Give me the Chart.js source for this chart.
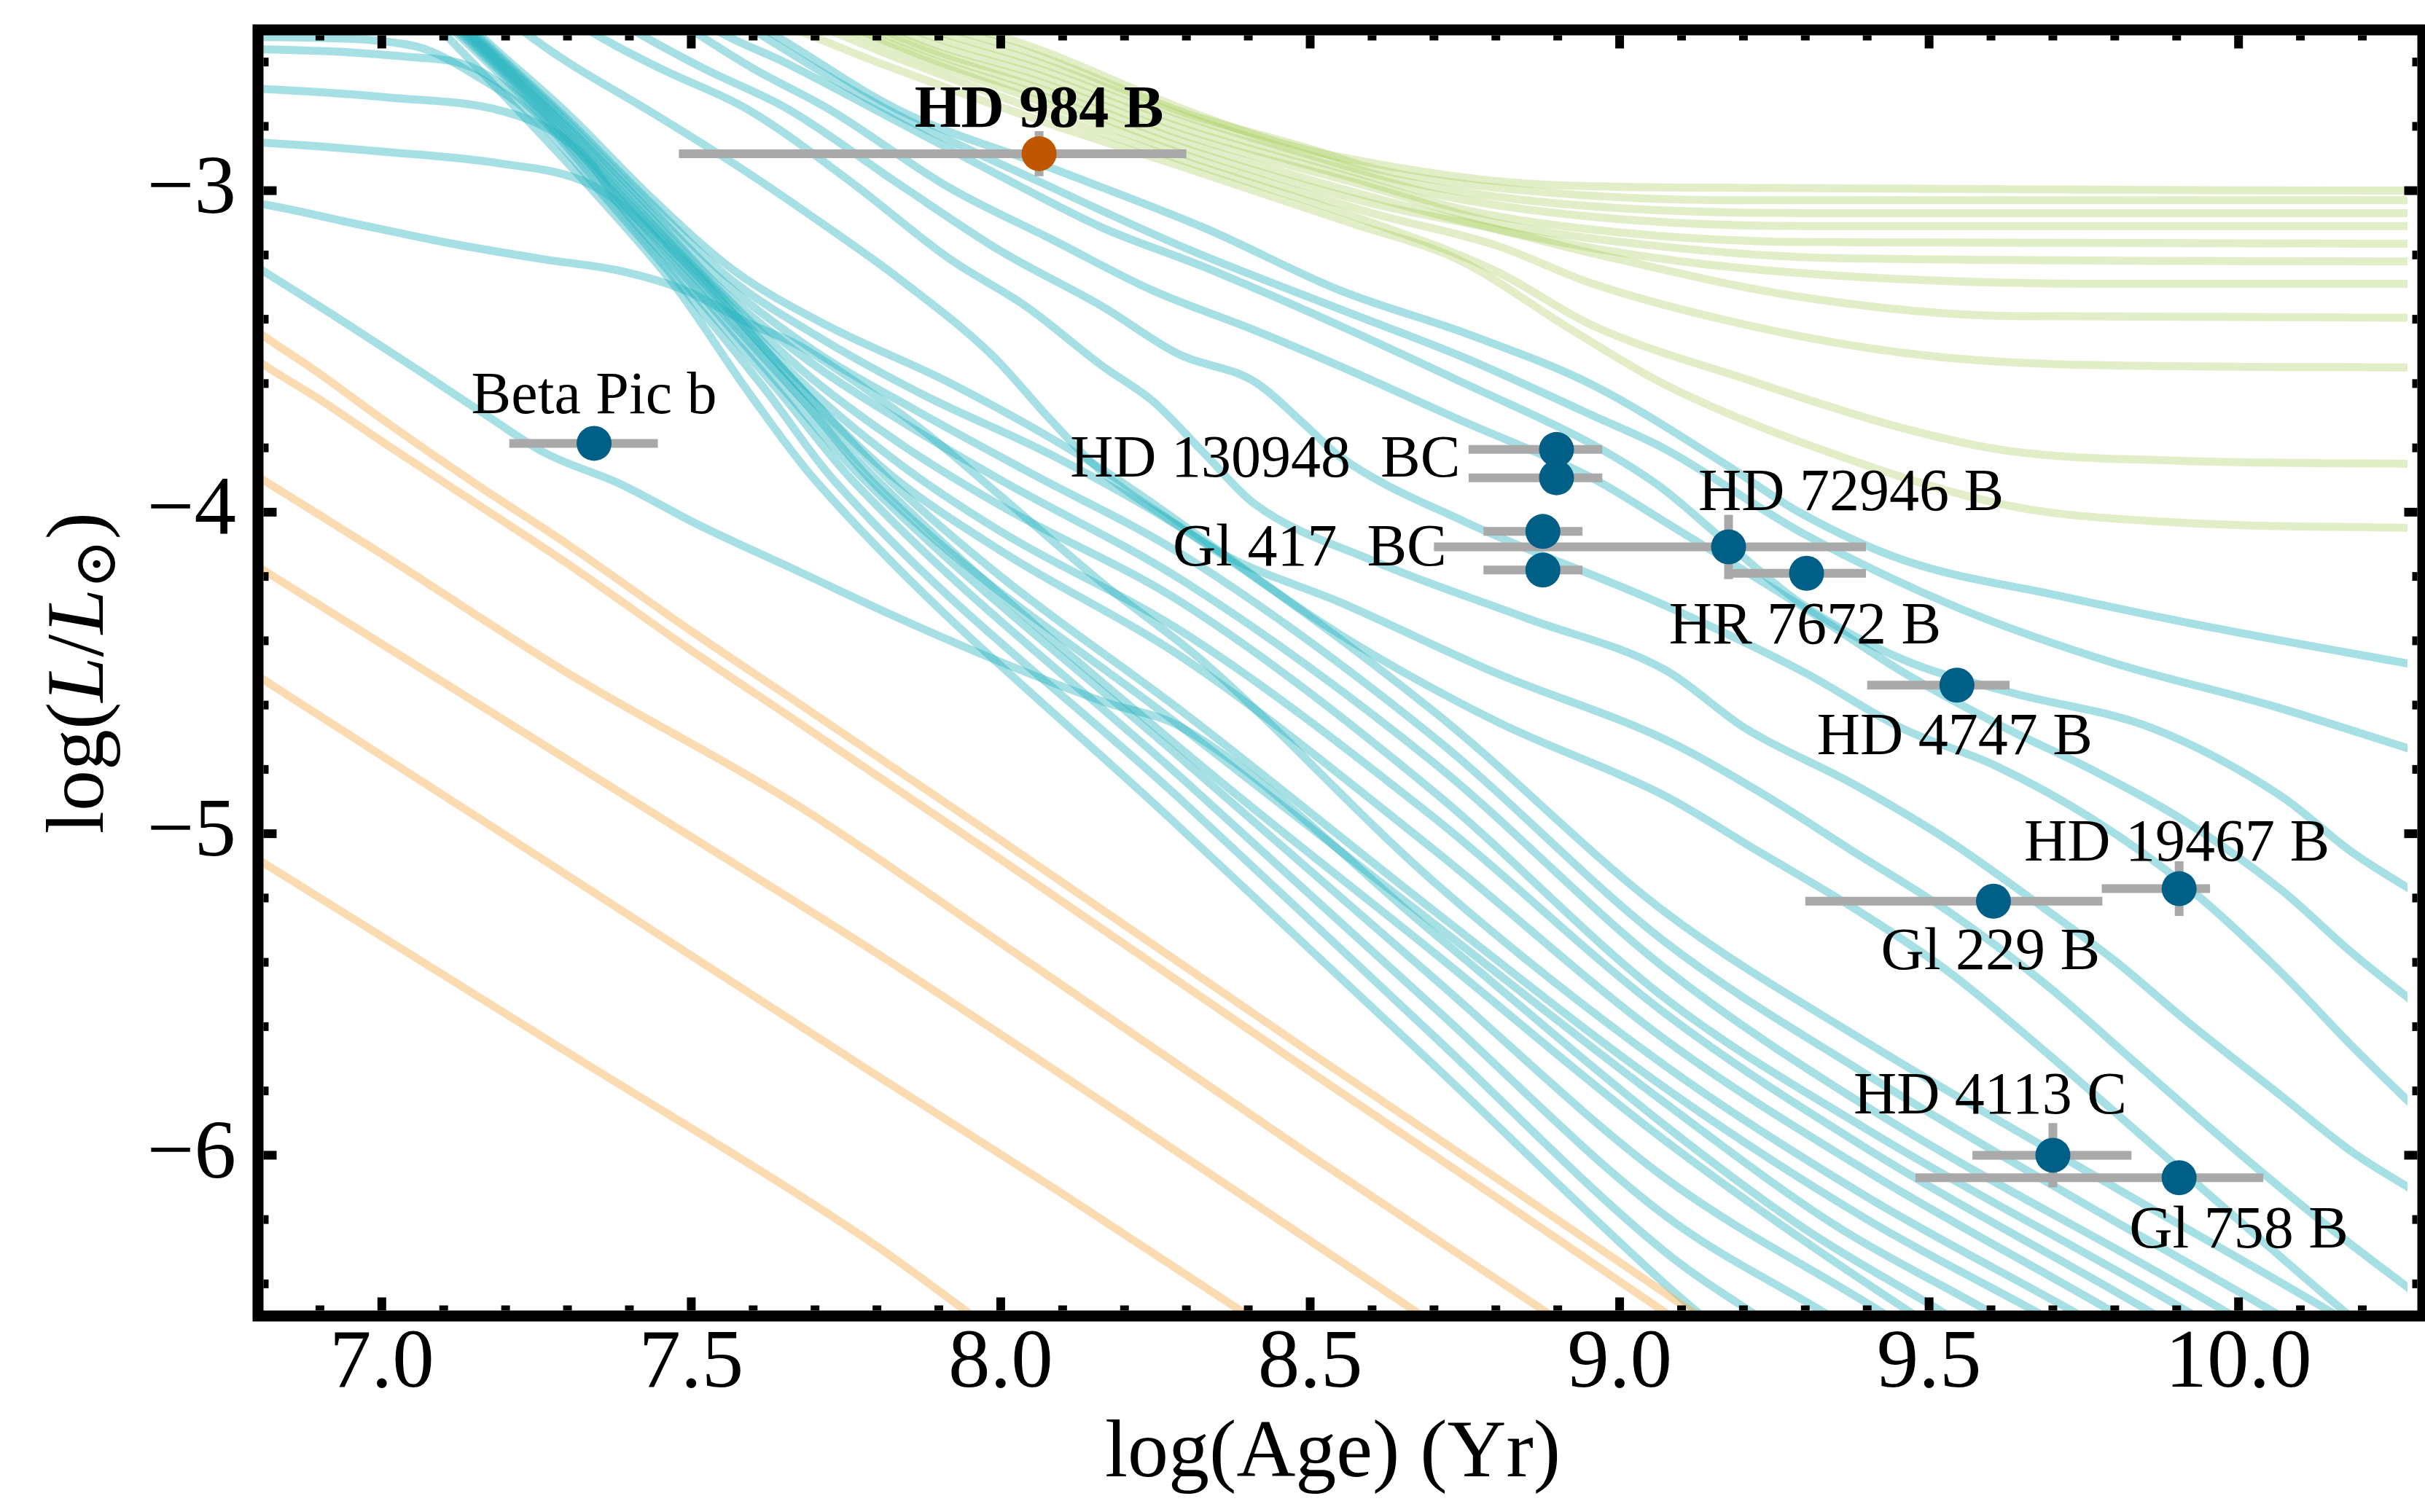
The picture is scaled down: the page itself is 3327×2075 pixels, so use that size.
<!DOCTYPE html>
<html>
<head>
<meta charset="utf-8">
<script src="https://cdn.jsdelivr.net/npm/chart.js"></script>
<style>
  html, body { margin: 0; padding: 0; background: #fff; }
  canvas { display: block; }
</style>
</head>
<body>
<canvas id="chart" width="3327" height="2075"></canvas>
<script>
// observed companions: log(age/yr), log(L/Lsun) and their error ranges
const objectNames = ["HD 984 B", "Beta Pic b", "HD 130948 B", "HD 130948 C", "Gl 417 B", "Gl 417 C",
  "HD 72946 B", "HR 7672 B", "HD 4747 B", "HD 19467 B", "Gl 229 B", "HD 4113 C", "Gl 758 B"];
const logAge = [8.062, 7.343, 8.898, 8.898, 8.876, 8.876, 9.176, 9.302, 9.545, 9.904, 9.604, 9.70, 9.904];
const logLum = [-2.885, -3.786, -3.805, -3.893, -4.06, -4.18, -4.108, -4.19, -4.538, -5.171, -5.21, -6.0, -6.07];
const ageLow = [7.48, 7.206, 8.756, 8.756, 8.78, 8.78, 8.70, 9.176, 9.40, 9.779, 9.30, 9.57, 9.478];
const ageHigh = [8.30, 7.446, 8.972, 8.972, 8.94, 8.94, 9.398, 9.398, 9.63, 9.954, 9.78, 9.827, 10.04];
const lumErr = [0.07, 0.02, 0.02, 0.02, 0.02, 0.02, 0.10, 0.02, 0.04, 0.085, 0.02, 0.10, 0.02];

// text labels and which point(s) they belong to
const labelText = ["HD 984 B", "Beta Pic b", "HD 130948  BC", "Gl 417  BC", "HD 72946 B", "HR 7672 B",
  "HD 4747 B", "HD 19467 B", "Gl 229 B", "HD 4113 C", "Gl 758 B"];
const labelAnchor = [[0], [1], [2, 3], [4, 5], [6], [7], [8], [9], [10], [11], [12]];

// axis ticks
const ageTicks = [7.0, 7.5, 8.0, 8.5, 9.0, 9.5, 10.0];
const lumTicks = [-6, -5, -4, -3];

// evolutionary tracks, [log age, log L]
const orangeTracks = [
  [[6.75, -3.37], [6.8, -3.44], [6.9, -3.57], [7.0, -3.71], [7.15, -3.91], [7.3, -4.10], [7.5, -4.37], [7.67, -4.59], [8.0, -5.02], [8.5, -5.68], [8.8, -6.07], [9.15, -6.53]],
  [[6.75, -3.46], [6.8, -3.53], [6.9, -3.65], [7.0, -3.78], [7.15, -3.97], [7.3, -4.16], [7.5, -4.43], [7.67, -4.65], [8.0, -5.08], [8.5, -5.74], [8.8, -6.13], [9.12, -6.55]],
  [[6.75, -3.83], [6.8, -3.89], [7.0, -4.13], [7.3, -4.5], [7.67, -4.91], [8.0, -5.34], [8.5, -6.0], [8.93, -6.55]],
  [[6.75, -4.11], [6.8, -4.17], [7.0, -4.41], [7.5, -5.01], [7.79, -5.36], [8.2, -5.88], [8.72, -6.55]],
  [[6.75, -4.45], [6.8, -4.51], [7.3, -5.13], [7.79, -5.74], [8.1, -6.12], [8.44, -6.55]],
  [[6.75, -5.02], [6.8, -5.08], [7.3, -5.68], [7.79, -6.27], [7.99, -6.55]],
];

const cyanTracks = [
  // plateau tracks from the left edge, dropping through the steep band
  [[6.75, -2.52], [6.8, -2.522], [6.9, -2.525], [7.0, -2.535], [7.07, -2.56], [7.15, -2.64], [7.24, -2.76], [7.365, -3.03], [7.485, -3.3], [7.62, -3.62], [7.73, -3.9], [8.3, -4.91], [8.7, -5.63], [9.073, -6.3], [9.27, -6.56]],
  [[6.75, -2.558], [6.8, -2.56], [6.95, -2.57], [7.05, -2.585], [7.12, -2.6], [7.17, -2.64], [7.25, -2.76], [7.372, -3.03], [7.495, -3.3], [7.64, -3.62], [7.76, -3.9], [8.3, -4.84], [8.7, -5.54], [9.073, -6.187], [9.34, -6.5], [9.39, -6.56]],
  [[6.75, -2.68], [6.8, -2.683], [7.01, -2.71], [7.19, -2.75], [7.28, -2.82], [7.34, -2.92], [7.378, -3.03], [7.505, -3.3], [7.65, -3.62], [7.78, -3.9], [8.3, -4.78], [8.7, -5.45], [9.073, -6.07], [9.433, -6.5], [9.48, -6.56]],
  [[6.75, -2.847], [6.8, -2.85], [7.01, -2.88], [7.19, -2.915], [7.325, -2.97], [7.39, -3.05], [7.512, -3.3], [7.665, -3.62], [7.8, -3.9], [8.3, -4.75], [8.7, -5.37], [9.073, -5.954], [9.479, -6.5], [9.53, -6.56]],
  [[6.75, -3.03], [6.8, -3.04], [6.95, -3.1], [7.1, -3.16], [7.26, -3.213], [7.386, -3.25], [7.49, -3.31], [7.59, -3.41], [7.672, -3.48], [7.754, -3.58], [7.877, -3.75], [8.0, -3.95], [8.164, -4.22], [8.328, -4.466], [8.7, -5.15], [9.073, -5.721], [9.4, -6.13], [9.746, -6.5], [9.8, -6.56]],
  [[6.75, -3.18], [6.8, -3.24], [6.92, -3.385], [7.06, -3.56], [7.17, -3.7], [7.263, -3.815], [7.386, -3.913], [7.508, -4.036], [7.672, -4.183], [7.836, -4.33], [8.0, -4.466], [8.164, -4.588], [8.295, -4.672], [8.7, -5.31], [9.073, -5.907], [9.3, -6.23], [9.532, -6.5], [9.58, -6.56]],
  // tracks entering from the top through the steep band, fanning out below it
  [[6.99, -2.3], [7.095, -2.5], [7.225, -2.76], [7.355, -3.03], [7.475, -3.3], [7.59, -3.62], [7.7, -3.9], [8.3, -5.0], [8.7, -5.72], [9.073, -6.4], [9.17, -6.56]],
  [[7.0, -2.3], [7.115, -2.5], [7.255, -2.76], [7.385, -3.03], [7.52, -3.3], [7.68, -3.65], [7.8, -3.92], [8.3, -4.68], [8.7, -5.28], [9.073, -5.837], [9.35, -6.22], [9.609, -6.5], [9.66, -6.56]],
  [[7.0, -2.3], [7.12, -2.5], [7.26, -2.76], [7.39, -3.03], [7.527, -3.3], [7.68, -3.62], [7.82, -3.9], [8.0, -4.2], [8.3, -4.63], [8.7, -5.24], [9.073, -5.79], [9.4, -6.2], [9.685, -6.5], [9.74, -6.56]],
  [[7.01, -2.3], [7.125, -2.5], [7.265, -2.76], [7.395, -3.03], [7.53, -3.3], [7.67, -3.6], [7.82, -3.88], [8.0, -4.12], [8.3, -4.46], [8.7, -5.05], [9.073, -5.64], [9.4, -6.05], [9.808, -6.5], [9.86, -6.56]],
  [[7.02, -2.3], [7.13, -2.5], [7.27, -2.76], [7.4, -3.03], [7.535, -3.3], [7.67, -3.58], [7.83, -3.84], [8.0, -4.06], [8.3, -4.38], [8.7, -4.95], [9.073, -5.558], [9.4, -5.98], [9.869, -6.5], [9.92, -6.56]],
  [[7.02, -2.3], [7.133, -2.5], [7.275, -2.76], [7.408, -3.03], [7.54, -3.3], [7.68, -3.56], [7.84, -3.79], [8.0, -3.98], [8.3, -4.29], [8.7, -4.87], [9.073, -5.511], [9.4, -5.92], [9.93, -6.5], [9.98, -6.56]],
  [[7.03, -2.3], [7.136, -2.5], [7.28, -2.76], [7.415, -3.03], [7.545, -3.3], [7.69, -3.53], [7.85, -3.73], [8.0, -3.9], [8.3, -4.22], [8.7, -4.78], [9.073, -5.418], [9.4, -5.85], [9.991, -6.5], [10.04, -6.56]],
  [[7.03, -2.3], [7.14, -2.5], [7.285, -2.76], [7.422, -3.03], [7.55, -3.28], [7.7, -3.5], [7.86, -3.68], [8.04, -3.87], [8.3, -4.14], [8.7, -4.7], [9.073, -5.336], [9.4, -5.75], [9.75, -6.15], [10.068, -6.5], [10.12, -6.56]],
  [[7.04, -2.3], [7.145, -2.5], [7.29, -2.76], [7.43, -3.03], [7.56, -3.27], [7.71, -3.46], [7.88, -3.64], [8.08, -3.82], [8.3, -4.06], [8.7, -4.62], [9.073, -5.243], [9.4, -5.65], [9.8, -6.1], [10.16, -6.5], [10.21, -6.56]],
  [[7.05, -2.3], [7.15, -2.5], [7.3, -2.76], [7.44, -3.03], [7.57, -3.25], [7.72, -3.42], [7.92, -3.6], [8.15, -3.85], [8.548, -4.38], [8.8, -4.65], [9.073, -4.882], [9.226, -5.057], [9.379, -5.232], [9.532, -5.43], [9.686, -5.675], [9.838, -5.93], [9.991, -6.187], [10.18, -6.5], [10.22, -6.56]],
  // higher-mass tracks entering from the top
  [[7.15, -2.38], [7.226, -2.5], [7.3, -2.6], [7.427, -2.746], [7.58, -2.93], [7.721, -3.115], [7.836, -3.274], [7.984, -3.508], [8.082, -3.716], [8.164, -3.876], [8.27, -4.02], [8.369, -4.14], [8.548, -4.28], [8.8, -4.5], [9.073, -4.707], [9.226, -4.87], [9.379, -5.057], [9.532, -5.243], [9.686, -5.465], [9.838, -5.72], [9.991, -5.977], [10.145, -6.222], [10.3, -6.45]],
  [[7.25, -2.38], [7.334, -2.5], [7.45, -2.62], [7.59, -2.746], [7.754, -2.967], [7.918, -3.213], [8.041, -3.36], [8.164, -3.545], [8.246, -3.655], [8.328, -3.815], [8.41, -3.974], [8.6, -4.15], [8.85, -4.33], [9.073, -4.49], [9.203, -4.672], [9.379, -4.847], [9.532, -5.022], [9.686, -5.232], [9.8, -5.395], [9.915, -5.581], [10.068, -5.814], [10.183, -5.989], [10.3, -6.13]],
  [[7.32, -2.4], [7.405, -2.5], [7.52, -2.62], [7.656, -2.746], [7.836, -2.98], [8.0, -3.188], [8.164, -3.36], [8.287, -3.508], [8.41, -3.594], [8.492, -3.729], [8.548, -3.827], [8.75, -4.03], [9.073, -4.29], [9.3, -4.5], [9.456, -4.672], [9.609, -4.79], [9.762, -4.952], [9.915, -5.162], [10.068, -5.43], [10.183, -5.66], [10.3, -5.88]],
  [[7.42, -2.4], [7.5, -2.5], [7.6, -2.62], [7.722, -2.746], [7.918, -2.992], [8.082, -3.151], [8.246, -3.311], [8.41, -3.434], [8.547, -3.545], [8.75, -3.72], [8.957, -3.895], [9.073, -4.03], [9.3, -4.3], [9.46, -4.5], [9.624, -4.672], [9.762, -4.8], [9.915, -4.963], [10.068, -5.173], [10.183, -5.37], [10.3, -5.55]],
  [[7.47, -2.4], [7.54, -2.5], [7.65, -2.6], [7.795, -2.746], [8.0, -2.955], [8.164, -3.115], [8.328, -3.237], [8.548, -3.42], [8.75, -3.6], [8.957, -3.79], [9.065, -3.92], [9.176, -4.1], [9.29, -4.28], [9.46, -4.46], [9.63, -4.56], [9.861, -4.672], [10.068, -4.882], [10.183, -5.057], [10.3, -5.2]],
  [[7.52, -2.4], [7.6, -2.5], [7.815, -2.746], [8.06, -2.97], [8.3, -3.18], [8.55, -3.37], [8.75, -3.52], [8.957, -3.7], [9.07, -3.8], [9.3, -4.07], [9.55, -4.3], [9.8, -4.47], [10.05, -4.6], [10.3, -4.75]],
  [[7.5, -2.38], [7.62, -2.5], [7.836, -2.75], [8.082, -2.93], [8.328, -3.115], [8.548, -3.31], [8.76, -3.45], [8.957, -3.605], [9.17, -3.85], [9.29, -4.0], [9.46, -4.15], [9.71, -4.26], [9.96, -4.36], [10.3, -4.48]],
];

const greenTracks = [
  [[7.78, -2.42], [7.84, -2.45], [7.98, -2.51], [8.06, -2.56], [8.3, -2.75], [8.45, -2.85], [8.56, -2.9], [8.8, -2.97], [9.07, -2.99], [10.3, -3.0]],
  [[7.76, -2.42], [7.82, -2.45], [7.96, -2.52], [8.06, -2.58], [8.3, -2.76], [8.5, -2.87], [8.6, -2.93], [8.85, -3.0], [9.2, -3.03], [10.3, -3.03]],
  [[7.74, -2.42], [7.8, -2.45], [7.94, -2.53], [8.06, -2.60], [8.3, -2.77], [8.5, -2.89], [8.65, -2.97], [8.9, -3.04], [9.3, -3.07], [10.3, -3.07]],
  [[7.72, -2.42], [7.78, -2.45], [7.92, -2.54], [8.06, -2.62], [8.3, -2.79], [8.55, -2.93], [8.7, -3.01], [8.95, -3.08], [9.3, -3.11], [10.3, -3.11]],
  [[7.7, -2.42], [7.76, -2.45], [7.9, -2.55], [8.06, -2.64], [8.3, -2.81], [8.55, -2.95], [8.75, -3.06], [9.0, -3.13], [9.3, -3.16], [10.3, -3.165]],
  [[7.68, -2.42], [7.74, -2.45], [7.9, -2.57], [8.06, -2.66], [8.3, -2.83], [8.6, -2.99], [8.8, -3.1], [9.05, -3.17], [9.35, -3.21], [10.3, -3.22]],
  [[7.66, -2.42], [7.72, -2.45], [7.9, -2.58], [8.06, -2.68], [8.3, -2.85], [8.6, -3.02], [8.85, -3.14], [9.1, -3.22], [9.4, -3.27], [9.8, -3.29], [10.3, -3.29]],
  [[7.64, -2.42], [7.7, -2.45], [7.9, -2.6], [8.06, -2.70], [8.3, -2.87], [8.6, -3.04], [8.8, -3.12], [8.957, -3.195], [9.29, -3.33], [9.63, -3.39], [10.3, -3.395]],
  [[7.62, -2.42], [7.68, -2.45], [7.9, -2.61], [8.06, -2.72], [8.3, -2.89], [8.6, -3.07], [8.8, -3.17], [8.957, -3.29], [9.21, -3.42], [9.46, -3.505], [9.71, -3.54], [10.3, -3.55]],
  [[7.59, -2.42], [7.65, -2.45], [7.85, -2.6], [8.06, -2.75], [8.3, -2.91], [8.6, -3.1], [8.8, -3.25], [8.957, -3.42], [9.21, -3.59], [9.46, -3.74], [9.63, -3.81], [9.9, -3.84], [10.3, -3.85]],
  [[7.54, -2.42], [7.6, -2.45], [7.8, -2.6], [8.06, -2.78], [8.3, -2.93], [8.565, -3.10], [8.74, -3.215], [8.92, -3.43], [9.07, -3.6], [9.29, -3.78], [9.63, -3.98], [9.88, -4.03], [10.3, -4.05]],
];

const ageMin = 6.8;
const ageMax = 10.273;
const lumMin = -6.5;
const lumMax = -2.5;

const serif = "'Liberation Serif', 'Times New Roman', 'DejaVu Serif', serif";
const cyanLine = "rgba(32, 178, 190, 0.4)";
const greenLine = "rgba(154, 200, 70, 0.3)";
const orangeLine = "rgba(245, 175, 85, 0.45)";
const errorGrey = "#a9a9a9";

Chart.defaults.font.family = serif;
Chart.defaults.color = "#000";

const trackDataset = (track, color) => ({
  type: "line",
  data: track.map(([x, y]) => ({ x, y })),
  borderColor: color,
  borderWidth: 11,
  borderJoinStyle: "round",
  pointRadius: 0,
  fill: false,
  cubicInterpolationMode: "monotone",
  clip: 0,
  order: 1,
});

const pointsDataset = {
  type: "scatter",
  label: "objects",
  data: logAge.map((x, i) => ({ x, y: logLum[i] })),
  pointRadius: 24,
  pointBorderWidth: 0,
  pointBackgroundColor: objectNames.map((n) => (n === "HD 984 B" ? "#c05600" : "#005f87")),
  order: 0,
};

const datasets = [
  pointsDataset,
  ...orangeTracks.map((t) => trackDataset(t, orangeLine)),
  ...cyanTracks.map((t) => trackDataset(t, cyanLine)),
  ...greenTracks.map((t) => trackDataset(t, greenLine)),
];

// where each label sits relative to its point (pixels, baseline)
const labelLayout = [
  { dx: 0, dy: -37, align: "center", bold: true },
  { dx: 0, dy: -41, align: "center" },
  { dx: -132, dy: 18, align: "right" },
  { dx: -132, dy: 20, align: "right" },
  { dx: 168, dy: -51, align: "center" },
  { dx: -2, dy: 96, align: "center" },
  { dx: -3, dy: 95, align: "center" },
  { dx: -3, dy: -39, align: "center" },
  { dx: -4, dy: 93, align: "center" },
  { dx: -86, dy: -57, align: "center" },
  { dx: 82, dy: 96, align: "center" },
];

const whiteBackground = {
  id: "whiteBackground",
  beforeDraw: (chart) => {
    const ctx = chart.ctx;
    ctx.save();
    ctx.fillStyle = "#fff";
    ctx.fillRect(0, 0, chart.width, chart.height);
    ctx.restore();
  },
};

const errorBars = {
  id: "errorBars",
  beforeDatasetDraw: (chart, args) => {
    if (args.meta.type !== "scatter") return;
    const { ctx, scales } = chart;
    const { x, y } = scales;
    ctx.save();
    ctx.strokeStyle = errorGrey;
    ctx.lineWidth = 12;
    ctx.lineCap = "butt";
    logAge.forEach((age, i) => {
      const py = y.getPixelForValue(logLum[i]);
      const px = x.getPixelForValue(age);
      ctx.beginPath();
      ctx.moveTo(x.getPixelForValue(ageLow[i]), py);
      ctx.lineTo(x.getPixelForValue(ageHigh[i]), py);
      ctx.moveTo(px, y.getPixelForValue(logLum[i] + lumErr[i]));
      ctx.lineTo(px, y.getPixelForValue(logLum[i] - lumErr[i]));
      ctx.stroke();
    });
    ctx.restore();
  },
};

const frameAndTicks = {
  id: "frameAndTicks",
  afterDatasetsDraw: (chart) => {
    const { ctx, chartArea, scales } = chart;
    const { x, y } = scales;
    const lw = 15;
    const left = chartArea.left;
    const top = chartArea.top;
    const bottom = chartArea.bottom;
    const right = chartArea.right + 21; // right spine sits just past the cropped edge
    ctx.save();
    ctx.strokeStyle = "#000";
    ctx.lineWidth = lw;
    ctx.lineCap = "square";
    ctx.beginPath();
    ctx.moveTo(left, top);
    ctx.lineTo(right, top);
    ctx.lineTo(right, bottom);
    ctx.lineTo(left, bottom);
    ctx.closePath();
    ctx.stroke();

    ctx.lineCap = "butt";
    ctx.lineWidth = 12;
    const tick = (x0, y0, x1, y1) => {
      ctx.beginPath();
      ctx.moveTo(x0, y0);
      ctx.lineTo(x1, y1);
      ctx.stroke();
    };
    const inner = lw / 2;
    for (let k = 69; k <= 102; k++) {
      const v = k / 10;
      const major = k % 5 === 0;
      const len = major ? 18 : 7;
      const px = x.getPixelForValue(v);
      tick(px, bottom - inner, px, bottom - inner - len);
      tick(px, top + inner, px, top + inner + len);
    }
    for (let k = -32; k <= -13; k++) {
      const v = k / 5;
      const major = k % 5 === 0;
      const len = major ? 18 : 7;
      const py = y.getPixelForValue(v);
      tick(left + inner, py, left + inner + len, py);
      tick(right - inner, py, right - inner - len, py);
    }
    ctx.restore();
  },
};

const textLabels = {
  id: "textLabels",
  afterDatasetsDraw: (chart) => {
    const { ctx, scales } = chart;
    const { x, y } = scales;
    ctx.save();
    ctx.fillStyle = "#000";
    ctx.textBaseline = "alphabetic";
    labelText.forEach((text, i) => {
      const idx = labelAnchor[i];
      const ax = idx.reduce((s, j) => s + x.getPixelForValue(logAge[j]), 0) / idx.length;
      const ay = idx.reduce((s, j) => s + y.getPixelForValue(logLum[j]), 0) / idx.length;
      const lay = labelLayout[i];
      ctx.font = `${lay.bold ? "bold " : ""}82px ${serif}`;
      ctx.textAlign = lay.align;
      ctx.fillText(text, ax + lay.dx, ay + lay.dy);
    });

    // y axis title: log(L/L_sun), drawn piece by piece for the italic L and subscript
    const size = 112;
    const parts = [
      { t: "log(", f: `${size}px ${serif}`, dy: 0 },
      { t: "L", f: `italic ${size}px ${serif}`, dy: 0 },
      { t: "/", f: `${size}px ${serif}`, dy: 0 },
      { t: "L", f: `italic ${size}px ${serif}`, dy: 0 },
      { t: "\u2299", f: `${Math.round(size * 0.72)}px ${serif}`, dy: 17 },
      { t: ")", f: `${size}px ${serif}`, dy: 0 },
    ];
    const widths = parts.map((p) => {
      ctx.font = p.f;
      return ctx.measureText(p.t).width;
    });
    const total = widths.reduce((a, b) => a + b, 0);
    ctx.translate(141, (chart.chartArea.top + chart.chartArea.bottom) / 2);
    ctx.rotate(-Math.PI / 2);
    ctx.textAlign = "left";
    let cx = -total / 2;
    parts.forEach((p, i) => {
      ctx.font = p.f;
      ctx.fillText(p.t, cx, p.dy);
      cx += widths[i];
    });
    ctx.restore();
  },
};

const chart = new Chart(document.getElementById("chart"), {
  type: "line",
  data: { datasets },
  options: {
    responsive: false,
    animation: false,
    devicePixelRatio: 1,
    events: [],
    layout: { padding: { top: 41, right: 0, bottom: 0, left: 0 } },
    plugins: {
      legend: { display: false },
      tooltip: { enabled: false },
    },
    scales: {
      x: {
        type: "linear",
        min: ageMin,
        max: ageMax,
        grid: { display: false, drawTicks: false },
        border: { display: false },
        ticks: {
          font: { size: 115, lineHeight: 1 },
          color: "#000",
          padding: 9,
          maxRotation: 0,
          autoSkip: false,
          callback: (v) => Number(v).toFixed(1),
        },
        afterBuildTicks: (scale) => {
          scale.ticks = ageTicks.map((value) => ({ value }));
        },
        afterFit: (scale) => {
          scale.height = 269;
          scale.paddingLeft = 0;
          scale.paddingRight = 0;
        },
        title: {
          display: true,
          text: "log(Age) (Yr)",
          color: "#000",
          font: { size: 112 },
          padding: { top: 0, bottom: 11 },
        },
      },
      y: {
        type: "linear",
        min: lumMin,
        max: lumMax,
        grid: { display: false, drawTicks: false },
        border: { display: false },
        ticks: {
          font: { size: 115 },
          color: "#000",
          padding: 30,
          autoSkip: false,
          callback: (v) => (v < 0 ? "\u2212" + Math.abs(v) : String(v)),
        },
        afterBuildTicks: (scale) => {
          scale.ticks = lumTicks.map((value) => ({ value }));
        },
        afterFit: (scale) => {
          scale.width = 354;
          scale.paddingTop = 0;
          scale.paddingBottom = 0;
        },
      },
    },
  },
  plugins: [whiteBackground, errorBars, frameAndTicks, textLabels],
});
</script>
</body>
</html>
